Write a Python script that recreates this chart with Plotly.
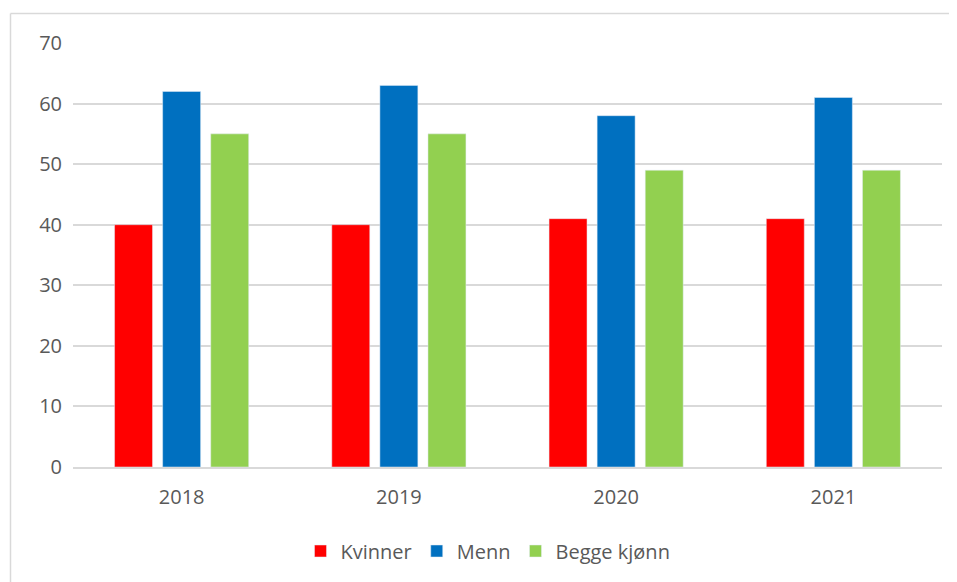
import plotly.graph_objects as go

years = ["2018", "2019", "2020", "2021"]
kvinner = [40, 40, 41, 41]
menn = [62, 63, 58, 61]
begge = [55, 55, 49, 49]
y_ticks = [0, 10, 20, 30, 40, 50, 60, 70]

OFF = 8  # page body margin
VW, VH = 957, 582
W, H = VW - OFF, VH - OFF
L, T = 73 - OFF, 43 - OFF
R = W + OFF - 942
B = H + OFF - 467
pw, ph = W - L - R, H - T - B

def px(x):
    return (x - OFF - L) / pw

def py(y):
    return (H - B - (y - OFF)) / ph

fig = go.Figure()
fig.add_bar(name="Kvinner", x=years, y=kvinner, marker_color="#FF0000")
fig.add_bar(name="Menn", x=years, y=menn, marker_color="#0070C0")
fig.add_bar(name="Begge kjønn", x=years, y=begge, marker_color="#92D050")

border = dict(color="#D9D9D9", width=1.5)
font = "Open Sans, Segoe UI, sans-serif"
fig.update_layout(
    width=W, height=H,
    margin=dict(l=L, r=R, t=T, b=B),
    paper_bgcolor="white", plot_bgcolor="white",
    barmode="group", bargap=0.336, bargroupgap=0.21,
    font=dict(family=font, size=20, color="#595959"),
    legend=dict(orientation="h", x=px(488), xanchor="center", y=py(551), yanchor="middle",
                font=dict(size=20, color="#595959"), traceorder="normal"),
    showlegend=True,
    xaxis=dict(showgrid=False, showline=True, linecolor="#D9D9D9", linewidth=1.5,
               ticks="", tickfont=dict(size=20), ticklabelstandoff=11),
    yaxis=dict(range=[0, 70], tickvals=y_ticks, showgrid=True, gridcolor="#D9D9D9",
               gridwidth=1.5, zeroline=False, showline=False, ticks="",
               tickfont=dict(size=20), ticklabelstandoff=10),
    shapes=[
        dict(type="line", xref="paper", yref="paper",
             x0=px(10.5), x1=px(960), y0=py(13.5), y1=py(13.5), line=border, layer="below"),
        dict(type="line", xref="paper", yref="paper",
             x0=px(10.5), x1=px(10.5), y0=py(13.5), y1=py(585), line=border, layer="below"),
    ],
)
fig.write_html("out.html", config={"displayModeBar": False})
